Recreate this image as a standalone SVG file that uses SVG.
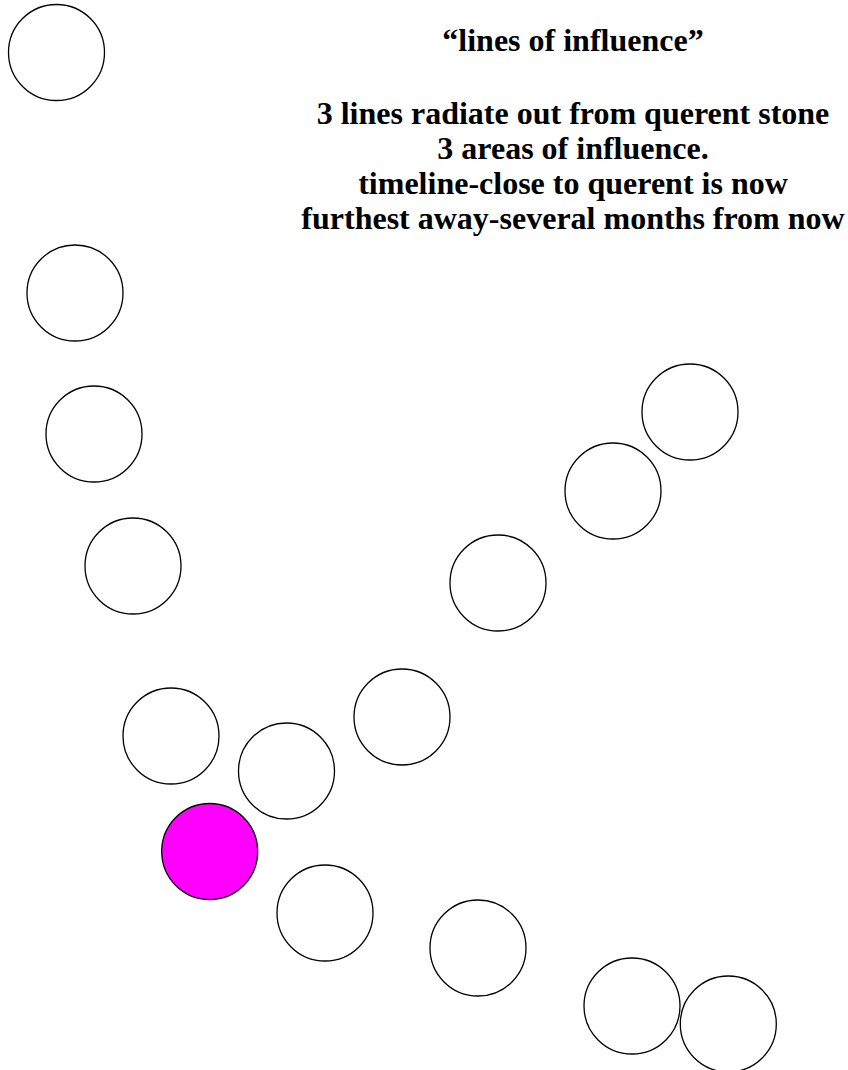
<svg xmlns="http://www.w3.org/2000/svg" width="848" height="1070" viewBox="0 0 848 1070">
<style>
.stone{fill:#ffffff;stroke:#000000;stroke-width:1.3}
.querent{fill:#ff00ff;stroke:#000000;stroke-width:1.3}
.t{font-family:"Liberation Serif","Times New Roman",serif;font-weight:bold;font-size:32px;fill:#000;text-anchor:middle}
</style>
<rect width="848" height="1070" fill="#ffffff"/>
<g id="labels">
<text class="t" x="573" y="51">“lines of influence”</text>
<text class="t" x="573" y="124">3 lines radiate out from querent stone</text>
<text class="t" x="573" y="159">3 areas of influence.</text>
<text class="t" x="573" y="194">timeline-close to querent is now</text>
<text class="t" x="573" y="229">furthest away-several months from now</text>
</g>
<g id="connectors"></g>
<g id="stone-1"><circle class="stone" cx="56.5" cy="52.5" r="48"/></g>
<g id="stone-2"><circle class="stone" cx="75" cy="293" r="48"/></g>
<g id="stone-3"><circle class="stone" cx="94" cy="434" r="48"/></g>
<g id="stone-4"><circle class="stone" cx="133" cy="566" r="48"/></g>
<g id="stone-5"><circle class="stone" cx="171" cy="736" r="48"/></g>
<g id="stone-6"><circle class="stone" cx="286.5" cy="771" r="48"/></g>
<g id="querent"><circle class="querent" cx="209.7" cy="851.5" r="48"/></g>
<g id="stone-8"><circle class="stone" cx="325" cy="913" r="48"/></g>
<g id="stone-9"><circle class="stone" cx="478" cy="948" r="48"/></g>
<g id="stone-10"><circle class="stone" cx="632" cy="1006" r="48"/></g>
<g id="stone-11"><circle class="stone" cx="728.3" cy="1024" r="48"/></g>
<g id="stone-12"><circle class="stone" cx="402" cy="717" r="48"/></g>
<g id="stone-13"><circle class="stone" cx="498" cy="583" r="48"/></g>
<g id="stone-14"><circle class="stone" cx="613" cy="491" r="48"/></g>
<g id="stone-15"><circle class="stone" cx="690" cy="412" r="48"/></g>
</svg>
